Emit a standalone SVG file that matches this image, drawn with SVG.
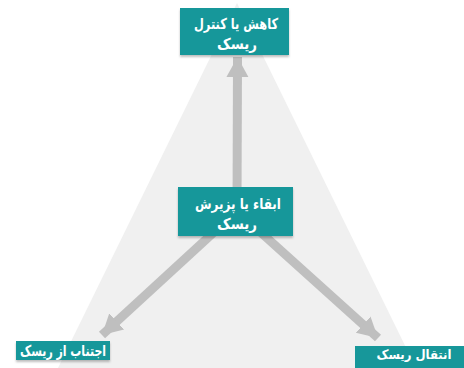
<svg xmlns="http://www.w3.org/2000/svg" width="464" height="368" viewBox="0 0 464 368">
<style>
.box{fill:#17979a}
.t{fill:#ffffff;font-family:"DejaVu Sans",sans-serif;font-weight:bold;font-size:15px;text-anchor:middle;direction:rtl}
.arr{stroke:#bfbfbf;stroke-width:9;fill:none}
</style>
<defs>
<marker id="ah" markerUnits="userSpaceOnUse" markerWidth="24" markerHeight="24" refX="20" refY="12" orient="auto">
<path d="M0,1 L20,12 L0,23 Z" fill="#bfbfbf"/>
</marker>
<filter id="sh" x="-10%" y="-10%" width="120%" height="140%">
<feDropShadow dx="0" dy="2" stdDeviation="1.2" flood-color="#000" flood-opacity="0.25"/>
</filter>
</defs>
<rect width="464" height="368" fill="#ffffff"/>
<polygon points="237,3 416,368 58,368" fill="#f0f0f0"/>
<g id="connectors">
<line class="arr" x1="237" y1="211" x2="237.5" y2="57" marker-end="url(#ah)"/>
<line class="arr" x1="237" y1="211" x2="102" y2="335" marker-end="url(#ah)"/>
<line class="arr" x1="237" y1="211" x2="378" y2="338" marker-end="url(#ah)"/>
</g>
<g id="node-top">
<rect class="box" x="180" y="8" width="109" height="47" filter="url(#sh)"/>
<text class="t" x="236" y="29" textLength="84" lengthAdjust="spacingAndGlyphs">کاهش یا کنترل</text>
<text class="t" x="237" y="49" textLength="40" lengthAdjust="spacingAndGlyphs">ریسک</text>
</g>
<g id="node-center">
<rect class="box" x="178" y="187" width="115" height="49" filter="url(#sh)"/>
<text class="t" x="238" y="209" textLength="86" lengthAdjust="spacingAndGlyphs">ابقاء یا پزیرش</text>
<text class="t" x="237" y="229" textLength="40" lengthAdjust="spacingAndGlyphs">ریسک</text>
</g>
<g id="node-left">
<rect class="box" x="16" y="341" width="94" height="19" filter="url(#sh)"/>
<text class="t" x="63" y="356" textLength="86" lengthAdjust="spacingAndGlyphs">اجتناب از ریسک</text>
</g>
<g id="node-right">
<rect class="box" x="355" y="346" width="109" height="22"/>
<text class="t" x="414" y="359" style="font-size:13px" textLength="75" lengthAdjust="spacingAndGlyphs">انتقال ریسک</text>
</g>
</svg>
